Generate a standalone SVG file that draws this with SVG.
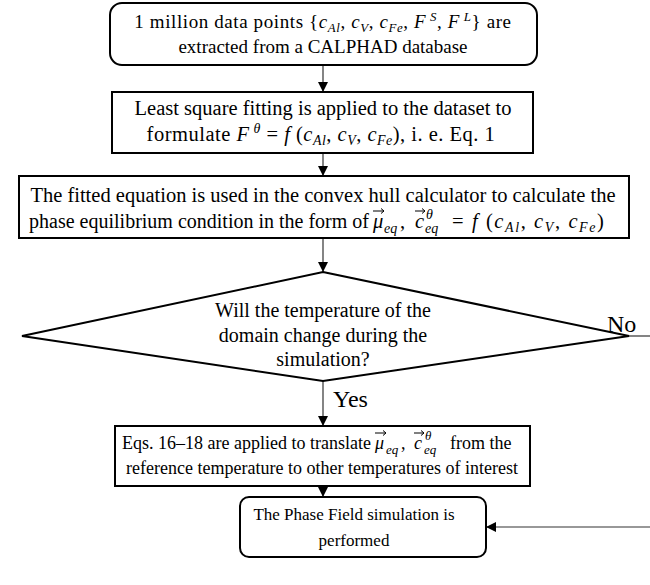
<svg xmlns="http://www.w3.org/2000/svg" width="650" height="585" viewBox="0 0 650 585">
<style>
.box{fill:#fff;stroke:#000;stroke-width:2}
.t{font-family:"Liberation Serif","Times New Roman",serif;font-size:19px;fill:#000;text-anchor:middle}
.b2{font-size:20.5px}
.b3{font-size:20.5px}
.b3p{font-size:20px}
.d{font-size:20px}
.b4{font-size:18px}
.b5{font-size:17px}
.st{text-anchor:start}
.en{text-anchor:end}
.m{font-style:italic}
.s{font-size:0.68em;font-style:italic}
.s3{font-size:14px;font-style:italic}
.s4{font-size:13px;font-style:italic}
.lbl{font-family:"Liberation Serif","Times New Roman",serif;font-size:24px;fill:#000}
.c{stroke:#333;stroke-width:1.2;fill:none}
.va{stroke:#000;stroke-width:1;fill:none}
</style>
<defs>
<marker id="ah" viewBox="0 0 10 10" refX="10" refY="5" markerWidth="10" markerHeight="10" markerUnits="userSpaceOnUse" orient="auto">
<path d="M0,0 L10,5 L0,10 Z" fill="#000"/>
</marker>
</defs>
<g id="connectors">
<line class="c" x1="323" y1="65" x2="323" y2="92" marker-end="url(#ah)"/>
<line class="c" x1="323" y1="153" x2="323" y2="176" marker-end="url(#ah)"/>
<line class="c" x1="323" y1="238" x2="323" y2="272" marker-end="url(#ah)"/>
<line class="c" x1="323" y1="381" x2="323" y2="426" marker-end="url(#ah)"/>
<line class="c" x1="323" y1="486" x2="323" y2="497" marker-end="url(#ah)"/>
<line class="c" x1="629" y1="336" x2="650" y2="336"/>
<line class="c" x1="650" y1="527" x2="486" y2="527" marker-end="url(#ah)"/>
<text class="lbl" x="333" y="407">Yes</text>
<text class="lbl" x="607" y="332">No</text>
</g>
<g id="n1">
<rect class="box" x="110" y="3" width="427" height="62" rx="12"/>
<text class="t" x="323" y="28" letter-spacing="0.6">1 million data points {<tspan class="m">c</tspan><tspan class="s" baseline-shift="-4">Al</tspan>, <tspan class="m">c</tspan><tspan class="s" baseline-shift="-4">V</tspan>, <tspan class="m">c</tspan><tspan class="s" baseline-shift="-4">Fe</tspan>, <tspan class="m">F</tspan><tspan class="s" baseline-shift="7"> S</tspan>, <tspan class="m">F</tspan><tspan class="s" baseline-shift="7"> L</tspan>} are</text>
<text class="t" x="323" y="53">extracted from a CALPHAD database</text>
</g>
<g id="n2">
<rect class="box" x="112" y="92" width="421" height="61"/>
<text class="t b2" x="323" y="115">Least square fitting is applied to the dataset to</text>
<text class="t b2" x="321" y="141" letter-spacing="0.5">formulate <tspan class="m">F</tspan><tspan class="s" baseline-shift="8"> θ</tspan>  =  <tspan class="m">f</tspan> (<tspan class="m">c</tspan><tspan class="s" baseline-shift="-4">Al</tspan>, <tspan class="m">c</tspan><tspan class="s" baseline-shift="-4">V</tspan>, <tspan class="m">c</tspan><tspan class="s" baseline-shift="-4">Fe</tspan>), i. e. Eq. 1</text>
</g>
<g id="n3">
<rect class="box" x="19" y="176" width="610" height="62"/>
<text class="t b3" x="323" y="202">The fitted equation is used in the convex hull calculator to calculate the</text>
<text class="t b3p en" x="369" y="228">phase equilibrium condition in the form of</text>
<text class="t b3 st m" x="373" y="228">μ</text>
<path class="va" d="M373,211 h11 M381,208.5 l3,2.5 l-3,2.5"/>
<text class="t st s3" x="384" y="233">eq</text>
<text class="t b3 st" x="400" y="228">,</text>
<text class="t b3 st m" x="415" y="228">c</text>
<path class="va" d="M415,211 h10 M422,208.5 l3,2.5 l-3,2.5"/>
<text class="t st s3" x="426" y="219">θ</text>
<text class="t st s3" x="425" y="233">eq</text>
<text class="t b3 st" x="452" y="228" letter-spacing="1.6">= <tspan class="m">f</tspan> (<tspan class="m">c</tspan><tspan class="s" baseline-shift="-4">Al</tspan>, <tspan class="m">c</tspan><tspan class="s" baseline-shift="-4">V</tspan>, <tspan class="m">c</tspan><tspan class="s" baseline-shift="-4">Fe</tspan>)</text>
</g>
<g id="n4">
<polygon class="box" points="323,272 629,336 323,381 22,336" stroke-width="1.5"/>
<text class="t d" x="323" y="317">Will the temperature of the</text>
<text class="t d" x="323" y="342">domain change during the</text>
<text class="t d" x="323" y="366">simulation?</text>
</g>
<g id="n5">
<rect class="box" x="115" y="426" width="415" height="60"/>
<text class="t b4 en" x="371" y="449">Eqs. 16–18 are applied to translate</text>
<text class="t b4 st m" x="375" y="449">μ</text>
<path class="va" d="M375,433 h11 M383,430.5 l3,2.5 l-3,2.5"/>
<text class="t st s4" x="386" y="454">eq</text>
<text class="t b4 st" x="401" y="449">,</text>
<text class="t b4 st m" x="414" y="449">c</text>
<path class="va" d="M414,433 h10 M421,430.5 l3,2.5 l-3,2.5"/>
<text class="t st s4" x="425" y="440">θ</text>
<text class="t st s4" x="424" y="454">eq</text>
<text class="t b4 st" x="450" y="449">from the</text>
<text class="t b4" x="322" y="474">reference temperature to other temperatures of interest</text>
</g>
<g id="n6">
<rect class="box" x="240" y="497" width="246" height="60" rx="9"/>
<text class="t b5" x="354" y="520">The Phase Field simulation is</text>
<text class="t b5" x="354" y="546">performed</text>
</g>
</svg>
